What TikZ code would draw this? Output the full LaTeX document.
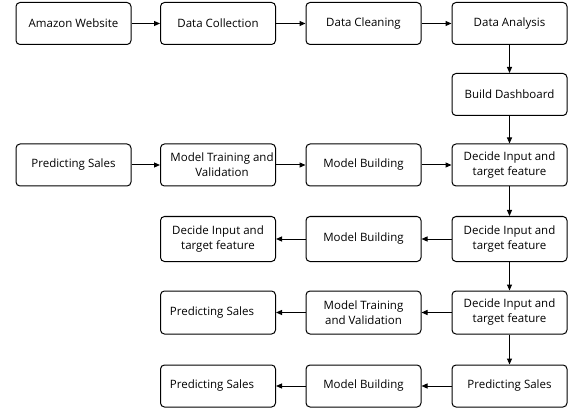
\documentclass[tikz,border=0pt]{standalone}
\usepackage{fontspec}
\setmainfont{Open Sans}
\usetikzlibrary{arrows.meta}
\begin{document}
\begin{tikzpicture}[x=1pt,y=-1pt,
  box/.style={draw, line width=1pt, rounded corners=4pt, minimum width=115pt, minimum height=42pt, align=center, inner sep=1pt, font=\fontsize{11.5}{15}\selectfont},
  arr/.style={-{Triangle[length=6pt,width=5pt]}, line width=1pt}]
\useasboundingbox (0,0) rectangle (568,409);
% columns
\def\ca{73.5}\def\cb{218}\def\cc{363.5}\def\cd{509.5}
% row 1
\node[box] (aw) at (\ca,23.5) {Amazon Website};
\node[box] (dcol) at (\cb,23.5) {Data Collection};
\node[box] (dcl) at (\cc,23.5) {Data Cleaning};
\node[box] (da) at (\cd,23.5) {Data Analysis};
% row 2
\node[box] (bd) at (\cd,94.5) {Build Dashboard};
% row 3
\node[box] (ps1) at (\ca,165) {Predicting Sales};
\node[box] (mt1) at (\cb,165) {\hspace*{8pt}Model Training and\\\hspace*{8pt}Validation};
\node[box] (mb1) at (\cc,165) {Model Building};
\node[box] (di1) at (\cd,165) {Decide Input and\\target feature};
% row 4
\node[box, minimum height=45pt] (di2) at (\cd,239) {Decide Input and\\target feature};
\node[box, minimum height=45pt] (mb2) at (\cc,239) {Model Building};
\node[box, minimum height=45pt] (di3) at (\cb,239) {Decide Input and\\target feature};
% row 5
\node[box, minimum height=43pt] (di4) at (\cd,312.5) {Decide Input and\\target feature};
\node[box, minimum height=43pt] (mt2) at (\cc,312.5) {Model Training\\and Validation};
\node[box, minimum height=43pt] (ps2) at (\cb,312.5) {Predicting Sales\hspace{12pt}};
% row 6
\node[box] (ps3) at (\cd,386) {Predicting Sales};
\node[box] (mb3) at (\cc,386) {Model Building};
\node[box] (ps4) at (\cb,386) {Predicting Sales\hspace{12pt}};
% arrows
\draw[arr] (aw) -- (dcol);
\draw[arr] (dcol) -- (dcl);
\draw[arr] (dcl) -- (da);
\draw[arr] (da) -- (bd);
\draw[arr] (bd) -- (di1);
\draw[arr] (ps1) -- (mt1);
\draw[arr] (mt1) -- (mb1);
\draw[arr] (mb1) -- (di1);
\draw[arr] (di1) -- (di2);
\draw[arr] (di2) -- (mb2);
\draw[arr] (mb2) -- (di3);
\draw[arr] (di2) -- (di4);
\draw[arr] (di4) -- (mt2);
\draw[arr] (mt2) -- (ps2);
\draw[arr] (di4) -- (ps3);
\draw[arr] (ps3) -- (mb3);
\draw[arr] (mb3) -- (ps4);
\end{tikzpicture}
\end{document}
